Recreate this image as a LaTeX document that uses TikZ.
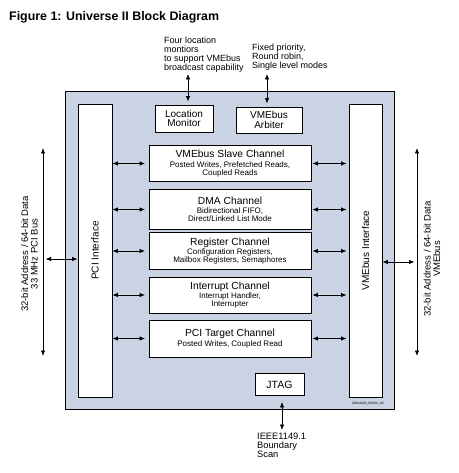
\documentclass[tikz,border=0pt]{standalone}
\usepackage{fontspec}
\setmainfont{Liberation Sans}
\usetikzlibrary{arrows.meta}
\definecolor{panelfill}{RGB}{201,211,227}
\newcommand\chtitle[1]{{\fontsize{10.3}{10.3}\selectfont #1}}
\begin{document}
\begin{tikzpicture}[x=1pt,y=-1pt,
  box/.style={draw,line width=0.9pt,fill=white,inner sep=0pt},
  chbox/.style={box,minimum width=162pt,align=center,font=\fontsize{8}{8}\selectfont},
  dbl/.style={{Latex[length=5.5pt,width=4.5pt]}-{Latex[length=5.5pt,width=4.5pt]},line width=0.8pt},
  note/.style={anchor=north west,inner sep=0pt,align=left,font=\fontsize{9}{9}\selectfont}]
\useasboundingbox (0,0) rectangle (458,473);
% title
\node[anchor=base west,inner sep=0pt,font=\fontsize{12.4}{12.4}\selectfont\bfseries] (title) at (9,20.7) {Figure 1: Universe II Block Diagram};
% panel
\node[draw,line width=0.9pt,fill=panelfill,minimum width=329pt,minimum height=318pt,inner sep=0pt] (panel) at (229.5,250) {};
% interfaces
\node[box,minimum width=34pt,minimum height=293pt] (pci) at (95,250.5) {};
\node[rotate=90,inner sep=0pt,font=\fontsize{10}{10}\selectfont] (pcilabel) at (pci) {PCI Interface};
\node[box,minimum width=33pt,minimum height=293pt] (vme) at (365.5,250.5) {};
\node[rotate=90,inner sep=0pt,font=\fontsize{10}{10}\selectfont] (vmelabel) at (vme) {VMEbus Interface};
% top blocks
\node[box,minimum width=58pt,minimum height=27pt,align=center,font=\fontsize{10}{9.5}\selectfont] (lm) at (184,118.5) {Location\\Monitor};
\node[box,minimum width=66pt,minimum height=26pt,align=center,font=\fontsize{10}{9.5}\selectfont] (arb) at (269,120) {VMEbus\\Arbiter};
% channels
\node[chbox,minimum height=36pt] (slave) at (230,163.5) {\chtitle{VMEbus Slave Channel}\\[1.5pt]Posted Writes, Prefetched Reads,\\Coupled Reads};
\node[chbox,minimum height=40pt] (dma) at (230,209.5) {\chtitle{DMA Channel}\\[1.5pt]Bidirectional FIFO,\\Direct/Linked List Mode};
\node[chbox,minimum height=37pt] (reg) at (230,251) {\chtitle{Register Channel}\\[1.5pt]Configuration Registers,\\Mailbox Registers, Semaphores};
\node[chbox,minimum height=36pt] (intr) at (230,295) {\chtitle{Interrupt Channel}\\[1.5pt]Interrupt Handler,\\Interrupter};
\node[chbox,minimum height=37pt] (pcit) at (230,338.5) {\chtitle{PCI Target Channel}\\[1.5pt]Posted Writes, Coupled Read};
\foreach \c in {slave,dma,reg,intr,pcit}{
  \draw[dbl,shorten >=3.5pt] (pci.east |- \c) -- (\c.west);
  \draw[dbl,shorten <=1pt,shorten >=2pt] (\c.east) -- (\c -| vme.west);
}
% JTAG
\node[box,minimum width=49pt,minimum height=22pt,font=\fontsize{10.5}{10.5}\selectfont] (jtag) at (279.5,384.5) {JTAG};
\coordinate (jtagend) at (282,430);
\draw[dbl,shorten <=6pt] (jtag.south -| jtagend) -- (jtagend);
\node[note,font=\fontsize{9.3}{9}\selectfont] (ieee) at (257,433) {IEEE1149.1\\Boundary\\Scan};
\node[inner sep=0pt,font=\fontsize{3.2}{3.2}\selectfont] (code) at (368,404) {800A1002\_BK001\_03};
% top annotations
\node[note] (note1) at (164,36.5) {Four location\\montiors\\to support VMEbus\\broadcast capability};
\node[note] (note2) at (252,44) {Fixed priority,\\Round robin,\\Single level modes};
\coordinate (lmtop) at (188,74);
\draw[dbl,shorten >=3pt] (lmtop) -- (lmtop |- lm.north);
\coordinate (arbtop) at (267,74);
\draw[dbl,shorten >=3pt] (arbtop) -- (arbtop |- arb.north);
% PCI bus
\coordinate (pcibusT) at (43,148);
\coordinate (pcibusB) at (43,356);
\draw[dbl] (pcibusT) -- (pcibusB);
\coordinate (pcibusM) at (43,259);
\draw[dbl,shorten <=2.5pt] (pcibusM) -- (pcibusM -| pci.west);
\node[rotate=90,align=center,inner sep=0pt,font=\fontsize{9.5}{9.5}\selectfont] (pcibuslabel) at (29.5,254) {32-bit Address / 64-bit Data\\33 MHz PCI Bus};
% VME bus
\coordinate (vmebusT) at (417,148);
\coordinate (vmebusB) at (417,356);
\draw[dbl] (vmebusT) -- (vmebusB);
\coordinate (vmebusM) at (417,262);
\draw[dbl,shorten >=2.5pt] (vmebusM -| vme.east) -- (vmebusM);
\node[rotate=90,align=center,inner sep=0pt,font=\fontsize{9.5}{9.5}\selectfont] (vmebuslabel) at (432,259) {32-bit Address / 64-bit Data\\VMEbus};
\end{tikzpicture}
\end{document}
